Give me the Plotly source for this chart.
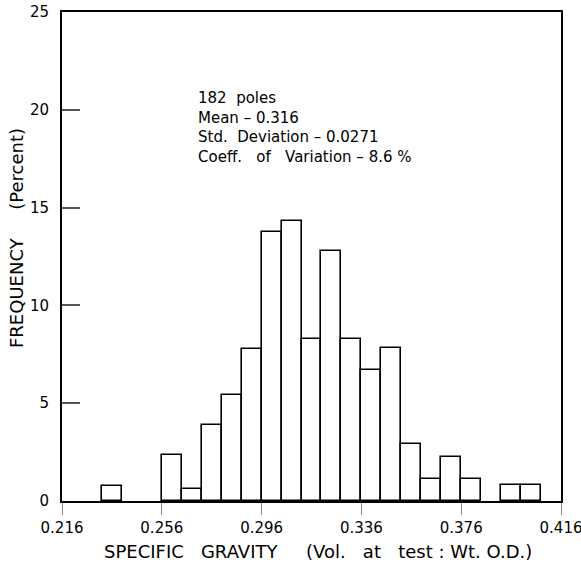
import plotly.graph_objects as go

# Data
bin_left = [0.216, 0.224, 0.232, 0.240, 0.248, 0.256, 0.264, 0.272, 0.280, 0.288,
            0.296, 0.304, 0.312, 0.320, 0.328, 0.336, 0.344, 0.352, 0.360, 0.368,
            0.376, 0.384, 0.392, 0.400, 0.408]
frequency = [0, 0, 0.76, 0, 0, 2.33, 0.63, 3.91, 5.43, 7.77,
             13.77, 14.33, 8.29, 12.80, 8.29, 6.72, 7.83, 2.92, 1.13, 2.25,
             1.13, 0, 0.81, 0.81, 0]
bin_width = 0.008

x_ticks = [0.216, 0.256, 0.296, 0.336, 0.376, 0.416]
x_tick_labels = ["0.216", "0.256", "0.296", "0.336", "0.376", "0.416"]
y_ticks = [0, 5, 10, 15, 20, 25]
y_tick_labels = ["0", "5", "10", "15", "20", "25"]

stats_lines = ["182  poles", "Mean – 0.316", "Std.  Deviation – 0.0271",
               "Coeff.   of   Variation – 8.6 %"]

centers = [b + bin_width / 2 for b in bin_left]
xs = [c for c, f in zip(centers, frequency) if f > 0]
ys = [f for f in frequency if f > 0]

font_family = "DejaVu Sans, Liberation Sans, sans-serif"

# desired plot area in page pixels (body margin removed below)
PL, PR, PT, PB = 62, 561, 12, 501
W, H = 581, 569

def px(xp):
    return (xp - PL) / (PR - PL)

def py(yp):
    return (PB - yp) / (PB - PT)

fig = go.Figure()
fig.add_trace(go.Bar(
    x=xs, y=ys, width=bin_width,
    marker=dict(color="white", line=dict(color="black", width=1.6)),
    hoverinfo="x+y",
))

fig.update_layout(
    width=W, height=H,
    margin=dict(l=PL, r=W - PR, t=PT, b=H - PB, pad=0, autoexpand=False),
    paper_bgcolor="white", plot_bgcolor="white",
    showlegend=False,
    font=dict(family=font_family, color="black", size=15),
    bargap=0,
)
fig.update_xaxes(
    range=[0.216, 0.416],
    tickvals=x_ticks, ticktext=x_tick_labels,
    ticks="outside", ticklen=12, tickcolor="#888", tickwidth=1,
    showline=True, linecolor="black", linewidth=2, mirror=True,
    showgrid=False, zeroline=False,
    tickfont=dict(size=15),
    ticklabeloverflow="allow", automargin=False,
)
fig.update_yaxes(
    range=[0, 25],
    tickvals=y_ticks, ticktext=y_tick_labels,
    ticks="inside", ticklen=18, tickcolor="#555", tickwidth=1.5,
    showline=True, linecolor="black", linewidth=2, mirror=True,
    showgrid=False, zeroline=False,
    tickfont=dict(size=15),
    ticklabelstandoff=8,
    ticklabeloverflow="allow", automargin=False,
)

fig.add_annotation(
    xref="paper", yref="paper", x=px(196), y=py(87),
    xanchor="left", yanchor="top", align="left",
    text="<br>".join(stats_lines), showarrow=False,
    font=dict(size=15),
)
fig.add_annotation(
    xref="paper", yref="paper", x=px(318), y=py(551),
    xanchor="center", yanchor="middle",
    text="SPECIFIC   GRAVITY     (Vol.   at   test : Wt. O.D.)",
    showarrow=False, font=dict(size=18),
)
fig.add_annotation(
    xref="paper", yref="paper", x=px(17), y=py(238),
    xanchor="center", yanchor="middle", textangle=-90,
    text="FREQUENCY     (Percent)",
    showarrow=False, font=dict(size=18),
)

fig.write_html(
    "out.html",
    config={"displayModeBar": False},
    post_script="document.body.style.margin='0';document.body.style.overflow='hidden';",
)
